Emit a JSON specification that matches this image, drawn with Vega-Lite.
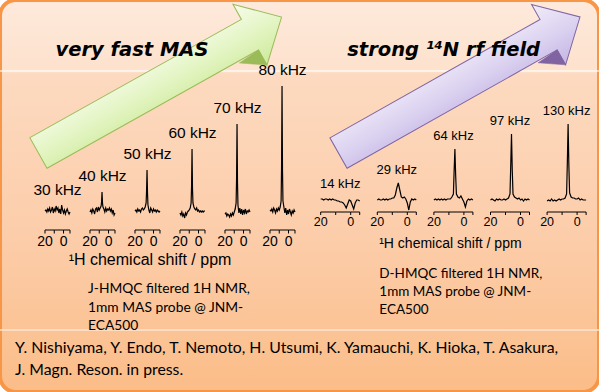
{
  "$schema": "https://vega.github.io/schema/vega-lite/v6.json",
  "width": 599,
  "height": 392,
  "autosize": {"type": "none"},
  "padding": 0,
  "background": "white",
  "config": {
    "view": {
      "fill": {"gradient": "linear", "x1": 0, "y1": 0, "x2": 0, "y2": 1,
        "stops": [
          {"offset": 0, "color": "#fee9db"},
          {"offset": 0.18, "color": "#fde2cd"},
          {"offset": 0.19, "color": "#fcdac0"},
          {"offset": 0.6, "color": "#fccdaa"},
          {"offset": 1, "color": "#fbbd88"}
        ]},
      "stroke": "#f79646",
      "strokeWidth": 4,
      "cornerRadius": 16
    },
    "text": {"font": "Liberation Sans", "color": "#000000"}
  },
  "datasets": {
    "note": [{"kind": "annotation"}],
    "jspec": [
      {"s":"30 kHz","p":20,"i":0},{"s":"30 kHz","p":19,"i":1},{"s":"30 kHz","p":18,"i":-1},{"s":"30 kHz","p":17,"i":2},{"s":"30 kHz","p":16,"i":0},{"s":"30 kHz","p":15,"i":3},{"s":"30 kHz","p":14,"i":-1},{"s":"30 kHz","p":13,"i":1},{"s":"30 kHz","p":12,"i":4},{"s":"30 kHz","p":11,"i":-2},{"s":"30 kHz","p":10,"i":2},{"s":"30 kHz","p":9,"i":0},{"s":"30 kHz","p":8,"i":5},{"s":"30 kHz","p":7,"i":1},{"s":"30 kHz","p":6,"i":3},{"s":"30 kHz","p":5,"i":-2},{"s":"30 kHz","p":4,"i":2},{"s":"30 kHz","p":3,"i":-3},{"s":"30 kHz","p":2,"i":6},{"s":"30 kHz","p":1,"i":1},{"s":"30 kHz","p":0,"i":-2},{"s":"30 kHz","p":-1,"i":1},{"s":"30 kHz","p":-2,"i":-3},{"s":"30 kHz","p":-3,"i":0},{"s":"30 kHz","p":-4,"i":2},{"s":"30 kHz","p":-5,"i":-1},{"s":"30 kHz","p":-6,"i":-3},{"s":"30 kHz","p":-7,"i":-1},
      {"s":"40 kHz","p":20,"i":-1},{"s":"40 kHz","p":19,"i":1},{"s":"40 kHz","p":18,"i":-2},{"s":"40 kHz","p":17,"i":2},{"s":"40 kHz","p":16,"i":0},{"s":"40 kHz","p":15,"i":-3},{"s":"40 kHz","p":14,"i":2},{"s":"40 kHz","p":13,"i":3},{"s":"40 kHz","p":12,"i":-1},{"s":"40 kHz","p":11,"i":4},{"s":"40 kHz","p":10,"i":1},{"s":"40 kHz","p":9,"i":3},{"s":"40 kHz","p":8,"i":5},{"s":"40 kHz","p":7.5,"i":9},{"s":"40 kHz","p":7,"i":19},{"s":"40 kHz","p":6.5,"i":8},{"s":"40 kHz","p":6,"i":4},{"s":"40 kHz","p":5,"i":2},{"s":"40 kHz","p":4,"i":-1},{"s":"40 kHz","p":3,"i":3},{"s":"40 kHz","p":2,"i":0},{"s":"40 kHz","p":1,"i":2},{"s":"40 kHz","p":0,"i":1},{"s":"40 kHz","p":-1,"i":3},{"s":"40 kHz","p":-2,"i":0},{"s":"40 kHz","p":-3,"i":2},{"s":"40 kHz","p":-4,"i":-2},{"s":"40 kHz","p":-5,"i":1},{"s":"40 kHz","p":-6,"i":-4},{"s":"40 kHz","p":-7,"i":-2},
      {"s":"50 kHz","p":20,"i":0},{"s":"50 kHz","p":19,"i":1},{"s":"50 kHz","p":18,"i":-1},{"s":"50 kHz","p":17,"i":2},{"s":"50 kHz","p":16,"i":0},{"s":"50 kHz","p":15,"i":1},{"s":"50 kHz","p":14,"i":-1},{"s":"50 kHz","p":13,"i":2},{"s":"50 kHz","p":12,"i":3},{"s":"50 kHz","p":11,"i":1},{"s":"50 kHz","p":10,"i":2},{"s":"50 kHz","p":9,"i":4},{"s":"50 kHz","p":8,"i":8},{"s":"50 kHz","p":7.5,"i":20},{"s":"50 kHz","p":7,"i":41},{"s":"50 kHz","p":6.5,"i":18},{"s":"50 kHz","p":6,"i":6},{"s":"50 kHz","p":5,"i":1},{"s":"50 kHz","p":4,"i":-2},{"s":"50 kHz","p":3,"i":3},{"s":"50 kHz","p":2,"i":1},{"s":"50 kHz","p":1,"i":-1},{"s":"50 kHz","p":0,"i":2},{"s":"50 kHz","p":-1,"i":0},{"s":"50 kHz","p":-2,"i":1},{"s":"50 kHz","p":-3,"i":-1},{"s":"50 kHz","p":-4,"i":1},{"s":"50 kHz","p":-5,"i":0},{"s":"50 kHz","p":-6,"i":-1},{"s":"50 kHz","p":-7,"i":0},
      {"s":"60 kHz","p":20,"i":-2},{"s":"60 kHz","p":19,"i":-4},{"s":"60 kHz","p":18,"i":-1},{"s":"60 kHz","p":17,"i":-5},{"s":"60 kHz","p":16,"i":-3},{"s":"60 kHz","p":15,"i":-7},{"s":"60 kHz","p":14,"i":-2},{"s":"60 kHz","p":13,"i":-4},{"s":"60 kHz","p":12,"i":-1},{"s":"60 kHz","p":11,"i":0},{"s":"60 kHz","p":10,"i":1},{"s":"60 kHz","p":9,"i":3},{"s":"60 kHz","p":8,"i":8},{"s":"60 kHz","p":7.5,"i":25},{"s":"60 kHz","p":7,"i":62},{"s":"60 kHz","p":6.5,"i":22},{"s":"60 kHz","p":6,"i":8},{"s":"60 kHz","p":5,"i":4},{"s":"60 kHz","p":4,"i":2},{"s":"60 kHz","p":3,"i":1},{"s":"60 kHz","p":2,"i":3},{"s":"60 kHz","p":1,"i":0},{"s":"60 kHz","p":0,"i":1},{"s":"60 kHz","p":-1,"i":-1},{"s":"60 kHz","p":-2,"i":0},{"s":"60 kHz","p":-3,"i":-1},{"s":"60 kHz","p":-4,"i":0},{"s":"60 kHz","p":-5,"i":-1},{"s":"60 kHz","p":-6,"i":0},{"s":"60 kHz","p":-7,"i":0},
      {"s":"70 kHz","p":20,"i":-3},{"s":"70 kHz","p":19,"i":-2},{"s":"70 kHz","p":18,"i":-5},{"s":"70 kHz","p":17,"i":-3},{"s":"70 kHz","p":16,"i":-4},{"s":"70 kHz","p":15,"i":-6},{"s":"70 kHz","p":14,"i":-3},{"s":"70 kHz","p":13,"i":-5},{"s":"70 kHz","p":12,"i":-2},{"s":"70 kHz","p":11,"i":-4},{"s":"70 kHz","p":10,"i":-1},{"s":"70 kHz","p":9,"i":2},{"s":"70 kHz","p":8,"i":8},{"s":"70 kHz","p":7.5,"i":32},{"s":"70 kHz","p":7,"i":87},{"s":"70 kHz","p":6.5,"i":28},{"s":"70 kHz","p":6,"i":6},{"s":"70 kHz","p":5,"i":-2},{"s":"70 kHz","p":4,"i":3},{"s":"70 kHz","p":3,"i":-3},{"s":"70 kHz","p":2,"i":2},{"s":"70 kHz","p":1,"i":-4},{"s":"70 kHz","p":0,"i":1},{"s":"70 kHz","p":-1,"i":-2},{"s":"70 kHz","p":-2,"i":2},{"s":"70 kHz","p":-3,"i":-3},{"s":"70 kHz","p":-4,"i":0},{"s":"70 kHz","p":-5,"i":-1},{"s":"70 kHz","p":-6,"i":1},{"s":"70 kHz","p":-7,"i":-1},
      {"s":"80 kHz","p":20,"i":1},{"s":"80 kHz","p":19,"i":0},{"s":"80 kHz","p":18,"i":2},{"s":"80 kHz","p":17,"i":-1},{"s":"80 kHz","p":16,"i":3},{"s":"80 kHz","p":15,"i":1},{"s":"80 kHz","p":14,"i":-2},{"s":"80 kHz","p":13,"i":2},{"s":"80 kHz","p":12,"i":0},{"s":"80 kHz","p":11,"i":3},{"s":"80 kHz","p":10,"i":1},{"s":"80 kHz","p":9,"i":4},{"s":"80 kHz","p":8,"i":10},{"s":"80 kHz","p":7.5,"i":45},{"s":"80 kHz","p":7,"i":125},{"s":"80 kHz","p":6.5,"i":40},{"s":"80 kHz","p":6,"i":10},{"s":"80 kHz","p":5,"i":4},{"s":"80 kHz","p":4,"i":-2},{"s":"80 kHz","p":3,"i":3},{"s":"80 kHz","p":2,"i":-4},{"s":"80 kHz","p":1,"i":1},{"s":"80 kHz","p":0,"i":-3},{"s":"80 kHz","p":-1,"i":2},{"s":"80 kHz","p":-2,"i":-1},{"s":"80 kHz","p":-3,"i":-4},{"s":"80 kHz","p":-4,"i":0},{"s":"80 kHz","p":-5,"i":-2},{"s":"80 kHz","p":-6,"i":1},{"s":"80 kHz","p":-7,"i":-1}
    ],
    "dspec": [
      {"s":"14 kHz","p":20,"i":1},{"s":"14 kHz","p":19,"i":1},{"s":"14 kHz","p":18,"i":0},{"s":"14 kHz","p":17,"i":1},{"s":"14 kHz","p":16,"i":1},{"s":"14 kHz","p":15,"i":0},{"s":"14 kHz","p":14,"i":1},{"s":"14 kHz","p":13,"i":0},{"s":"14 kHz","p":12,"i":1},{"s":"14 kHz","p":11,"i":0},{"s":"14 kHz","p":10,"i":0},{"s":"14 kHz","p":9,"i":-1},{"s":"14 kHz","p":8,"i":-1},{"s":"14 kHz","p":7,"i":-2},{"s":"14 kHz","p":6,"i":-2},{"s":"14 kHz","p":5,"i":-3},{"s":"14 kHz","p":4,"i":-5},{"s":"14 kHz","p":3,"i":-8},{"s":"14 kHz","p":2,"i":-4},{"s":"14 kHz","p":1,"i":0},{"s":"14 kHz","p":0,"i":-1},{"s":"14 kHz","p":-1,"i":-5},{"s":"14 kHz","p":-2,"i":-9},{"s":"14 kHz","p":-3,"i":-3},{"s":"14 kHz","p":-4,"i":0},{"s":"14 kHz","p":-5,"i":0},{"s":"14 kHz","p":-6,"i":-1},
      {"s":"29 kHz","p":20,"i":0},{"s":"29 kHz","p":19,"i":1},{"s":"29 kHz","p":18,"i":0},{"s":"29 kHz","p":17,"i":0},{"s":"29 kHz","p":16,"i":1},{"s":"29 kHz","p":15,"i":0},{"s":"29 kHz","p":14,"i":1},{"s":"29 kHz","p":13,"i":0},{"s":"29 kHz","p":12,"i":1},{"s":"29 kHz","p":11,"i":1},{"s":"29 kHz","p":10,"i":2},{"s":"29 kHz","p":9,"i":2},{"s":"29 kHz","p":8,"i":5},{"s":"29 kHz","p":7,"i":12},{"s":"29 kHz","p":6,"i":17},{"s":"29 kHz","p":5,"i":10},{"s":"29 kHz","p":4,"i":3},{"s":"29 kHz","p":3,"i":2},{"s":"29 kHz","p":2,"i":3},{"s":"29 kHz","p":1,"i":1},{"s":"29 kHz","p":0,"i":-3},{"s":"29 kHz","p":-1,"i":-10},{"s":"29 kHz","p":-2,"i":-2},{"s":"29 kHz","p":-3,"i":1},{"s":"29 kHz","p":-4,"i":0},{"s":"29 kHz","p":-5,"i":1},{"s":"29 kHz","p":-6,"i":0},
      {"s":"64 kHz","p":20,"i":0},{"s":"64 kHz","p":19,"i":1},{"s":"64 kHz","p":18,"i":0},{"s":"64 kHz","p":17,"i":1},{"s":"64 kHz","p":16,"i":0},{"s":"64 kHz","p":15,"i":1},{"s":"64 kHz","p":14,"i":0},{"s":"64 kHz","p":13,"i":1},{"s":"64 kHz","p":12,"i":0},{"s":"64 kHz","p":11,"i":1},{"s":"64 kHz","p":10,"i":1},{"s":"64 kHz","p":9,"i":1},{"s":"64 kHz","p":8,"i":3},{"s":"64 kHz","p":7,"i":6},{"s":"64 kHz","p":6.5,"i":30},{"s":"64 kHz","p":6,"i":51},{"s":"64 kHz","p":5.5,"i":25},{"s":"64 kHz","p":5,"i":6},{"s":"64 kHz","p":4,"i":3},{"s":"64 kHz","p":3,"i":2},{"s":"64 kHz","p":2,"i":4},{"s":"64 kHz","p":1,"i":1},{"s":"64 kHz","p":0,"i":-2},{"s":"64 kHz","p":-1,"i":-7},{"s":"64 kHz","p":-2,"i":-1},{"s":"64 kHz","p":-3,"i":1},{"s":"64 kHz","p":-4,"i":0},{"s":"64 kHz","p":-5,"i":1},{"s":"64 kHz","p":-6,"i":0},
      {"s":"97 kHz","p":20,"i":0},{"s":"97 kHz","p":19,"i":1},{"s":"97 kHz","p":18,"i":0},{"s":"97 kHz","p":17,"i":-1},{"s":"97 kHz","p":16,"i":1},{"s":"97 kHz","p":15,"i":0},{"s":"97 kHz","p":14,"i":1},{"s":"97 kHz","p":13,"i":0},{"s":"97 kHz","p":12,"i":0},{"s":"97 kHz","p":11,"i":1},{"s":"97 kHz","p":10,"i":0},{"s":"97 kHz","p":9,"i":1},{"s":"97 kHz","p":8,"i":2},{"s":"97 kHz","p":7,"i":6},{"s":"97 kHz","p":6.5,"i":35},{"s":"97 kHz","p":6,"i":66},{"s":"97 kHz","p":5.5,"i":30},{"s":"97 kHz","p":5,"i":6},{"s":"97 kHz","p":4,"i":3},{"s":"97 kHz","p":3,"i":2},{"s":"97 kHz","p":2,"i":1},{"s":"97 kHz","p":1,"i":2},{"s":"97 kHz","p":0,"i":0},{"s":"97 kHz","p":-1,"i":1},{"s":"97 kHz","p":-2,"i":-1},{"s":"97 kHz","p":-3,"i":1},{"s":"97 kHz","p":-4,"i":0},{"s":"97 kHz","p":-5,"i":1},{"s":"97 kHz","p":-6,"i":0},
      {"s":"130 kHz","p":20,"i":-1},{"s":"130 kHz","p":19,"i":0},{"s":"130 kHz","p":18,"i":-1},{"s":"130 kHz","p":17,"i":1},{"s":"130 kHz","p":16,"i":-1},{"s":"130 kHz","p":15,"i":0},{"s":"130 kHz","p":14,"i":-1},{"s":"130 kHz","p":13,"i":0},{"s":"130 kHz","p":12,"i":1},{"s":"130 kHz","p":11,"i":0},{"s":"130 kHz","p":10,"i":1},{"s":"130 kHz","p":9,"i":1},{"s":"130 kHz","p":8,"i":2},{"s":"130 kHz","p":7,"i":6},{"s":"130 kHz","p":6.5,"i":38},{"s":"130 kHz","p":6,"i":76},{"s":"130 kHz","p":5.5,"i":35},{"s":"130 kHz","p":5,"i":7},{"s":"130 kHz","p":4,"i":3},{"s":"130 kHz","p":3,"i":2},{"s":"130 kHz","p":2,"i":2},{"s":"130 kHz","p":1,"i":1},{"s":"130 kHz","p":0,"i":1},{"s":"130 kHz","p":-1,"i":2},{"s":"130 kHz","p":-2,"i":0},{"s":"130 kHz","p":-3,"i":1},{"s":"130 kHz","p":-4,"i":0},{"s":"130 kHz","p":-5,"i":0},{"s":"130 kHz","p":-6,"i":0}
    ],
    "jlab": [
      {"s":"30 kHz","peak":5},{"s":"40 kHz","peak":19},{"s":"50 kHz","peak":41},{"s":"60 kHz","peak":62},{"s":"70 kHz","peak":87},{"s":"80 kHz","peak":125}
    ],
    "dlab": [
      {"s":"14 kHz","peak":3},{"s":"29 kHz","peak":17},{"s":"64 kHz","peak":51},{"s":"97 kHz","peak":66},{"s":"130 kHz","peak":76}
    ],
    "jticks": [
      {"s":"30 kHz","p":20,"lab":"20"},{"s":"30 kHz","p":10,"lab":""},{"s":"30 kHz","p":0,"lab":"0"},{"s":"30 kHz","p":-7,"lab":""},
      {"s":"40 kHz","p":20,"lab":"20"},{"s":"40 kHz","p":10,"lab":""},{"s":"40 kHz","p":0,"lab":"0"},{"s":"40 kHz","p":-7,"lab":""},
      {"s":"50 kHz","p":20,"lab":"20"},{"s":"50 kHz","p":10,"lab":""},{"s":"50 kHz","p":0,"lab":"0"},{"s":"50 kHz","p":-7,"lab":""},
      {"s":"60 kHz","p":20,"lab":"20"},{"s":"60 kHz","p":10,"lab":""},{"s":"60 kHz","p":0,"lab":"0"},{"s":"60 kHz","p":-7,"lab":""},
      {"s":"70 kHz","p":20,"lab":"20"},{"s":"70 kHz","p":10,"lab":""},{"s":"70 kHz","p":0,"lab":"0"},{"s":"70 kHz","p":-7,"lab":""},
      {"s":"80 kHz","p":20,"lab":"20"},{"s":"80 kHz","p":10,"lab":""},{"s":"80 kHz","p":0,"lab":"0"},{"s":"80 kHz","p":-7,"lab":""}
    ],
    "dticks": [
      {"s":"14 kHz","p":20,"lab":"20"},{"s":"14 kHz","p":10,"lab":""},{"s":"14 kHz","p":0,"lab":"0"},{"s":"14 kHz","p":-6,"lab":""},
      {"s":"29 kHz","p":20,"lab":"20"},{"s":"29 kHz","p":10,"lab":""},{"s":"29 kHz","p":0,"lab":"0"},{"s":"29 kHz","p":-6,"lab":""},
      {"s":"64 kHz","p":20,"lab":"20"},{"s":"64 kHz","p":10,"lab":""},{"s":"64 kHz","p":0,"lab":"0"},{"s":"64 kHz","p":-6,"lab":""},
      {"s":"97 kHz","p":20,"lab":"20"},{"s":"97 kHz","p":10,"lab":""},{"s":"97 kHz","p":0,"lab":"0"},{"s":"97 kHz","p":-6,"lab":""},
      {"s":"130 kHz","p":20,"lab":"20"},{"s":"130 kHz","p":10,"lab":""},{"s":"130 kHz","p":0,"lab":"0"},{"s":"130 kHz","p":-6,"lab":""}
    ]
  },
  "layer": [
    {
      "layer": [
        {"data": {"name": "note"},
         "mark": {"type": "rule", "stroke": "#ffffff", "strokeWidth": 1.5, "strokeOpacity": 0.75},
         "encoding": {"y": {"datum": 140, "type": "quantitative", "scale": {"type": "linear", "domain": [-181, 211], "range": [392, 0], "zero": false, "nice": false}, "axis": null}}},
        {"data": {"name": "note"},
         "mark": {"type": "rule", "stroke": "#fee6d2", "strokeWidth": 1.5},
         "encoding": {"y": {"datum": -119, "type": "quantitative", "scale": {"type": "linear", "domain": [-181, 211], "range": [392, 0], "zero": false, "nice": false}, "axis": null}}},
        {"data": {"name": "note"},
         "mark": {"type": "point", "shape": "M-1,-0.126L0.74,-0.126L0.74,-0.25L1,0L0.74,0.25L0.74,0.126L-1,0.126Z", "size": 77562, "angle": 330.8, "filled": true, "opacity": 1,
          "fill": {"gradient": "linear", "x1": 0, "y1": 0, "x2": 0, "y2": 1, "stops": [{"offset": 0, "color": "#f6fcec"}, {"offset": 0.5, "color": "#e4f5c4"}, {"offset": 1, "color": "#cdea9a"}]},
          "stroke": "#9bbb59", "strokeWidth": 1},
         "encoding": {
           "x": {"datum": "50 kHz", "type": "nominal", "bandPosition": 1, "scale": {"type": "band", "domain": ["30 kHz","40 kHz","50 kHz","60 kHz","70 kHz","80 kHz"], "range": [35, 305], "paddingInner": 0.4444, "paddingOuter": 0.2222}, "axis": null},
           "y": {"datum": 126, "type": "quantitative", "scale": {"type": "linear", "domain": [-181, 211], "range": [392, 0], "zero": false, "nice": false}, "axis": null}}},
        {"data": {"name": "note"},
         "mark": {"type": "point", "shape": "M0.575,0.14L0.74,0.126L0.74,0.25Z", "size": 77562, "angle": 330.8, "filled": true, "opacity": 1, "fill": "#9bbb59", "stroke": "#9bbb59", "strokeWidth": 0.5},
         "encoding": {
           "x": {"datum": "50 kHz", "type": "nominal", "bandPosition": 1, "scale": {"type": "band", "domain": ["30 kHz","40 kHz","50 kHz","60 kHz","70 kHz","80 kHz"], "range": [35, 305], "paddingInner": 0.4444, "paddingOuter": 0.2222}, "axis": null},
           "y": {"datum": 126, "type": "quantitative", "scale": {"type": "linear", "domain": [-181, 211], "range": [392, 0], "zero": false, "nice": false}, "axis": null}}},
        {"data": {"name": "jspec"},
         "mark": {"type": "line", "stroke": "#000000", "strokeWidth": 1.2},
         "encoding": {
           "x": {"field": "s", "type": "nominal", "scale": {"type": "band", "domain": ["30 kHz","40 kHz","50 kHz","60 kHz","70 kHz","80 kHz"], "range": [35, 305], "paddingInner": 0.4444, "paddingOuter": 0.2222}, "axis": null},
           "xOffset": {"field": "p", "type": "quantitative", "scale": {"type": "linear", "domain": [-7, 20], "reverse": true, "range": [0, 25], "zero": false, "nice": false}},
           "y": {"field": "i", "type": "quantitative", "scale": {"type": "linear", "domain": [-181, 211], "range": [392, 0], "zero": false, "nice": false}, "axis": null},
           "detail": {"field": "s", "type": "nominal"},
           "order": {"field": "p", "type": "quantitative", "sort": "descending"}}},
        {"data": {"name": "jticks"},
         "mark": {"type": "line", "stroke": "#000000", "strokeWidth": 1},
         "encoding": {
           "x": {"field": "s", "type": "nominal", "scale": {"type": "band", "domain": ["30 kHz","40 kHz","50 kHz","60 kHz","70 kHz","80 kHz"], "range": [35, 305], "paddingInner": 0.4444, "paddingOuter": 0.2222}, "axis": null},
           "xOffset": {"field": "p", "type": "quantitative", "scale": {"type": "linear", "domain": [-7, 20], "reverse": true, "range": [0, 25], "zero": false, "nice": false}},
           "y": {"datum": -19, "type": "quantitative", "scale": {"type": "linear", "domain": [-181, 211], "range": [392, 0], "zero": false, "nice": false}, "axis": null},
           "detail": {"field": "s", "type": "nominal"},
           "order": {"field": "p", "type": "quantitative", "sort": "descending"}}},
        {"data": {"name": "jticks"},
         "mark": {"type": "rule", "stroke": "#000000", "strokeWidth": 1},
         "encoding": {
           "x": {"field": "s", "type": "nominal", "scale": {"type": "band", "domain": ["30 kHz","40 kHz","50 kHz","60 kHz","70 kHz","80 kHz"], "range": [35, 305], "paddingInner": 0.4444, "paddingOuter": 0.2222}, "axis": null},
           "xOffset": {"field": "p", "type": "quantitative", "scale": {"type": "linear", "domain": [-7, 20], "reverse": true, "range": [0, 25], "zero": false, "nice": false}},
           "y": {"datum": -19, "type": "quantitative", "scale": {"type": "linear", "domain": [-181, 211], "range": [392, 0], "zero": false, "nice": false}, "axis": null},
           "y2": {"datum": -22.5}}},
        {"data": {"name": "jticks"},
         "mark": {"type": "text", "font": "Liberation Sans Narrow, Liberation Sans", "fontSize": 14, "baseline": "middle", "align": "center"},
         "encoding": {
           "x": {"field": "s", "type": "nominal", "scale": {"type": "band", "domain": ["30 kHz","40 kHz","50 kHz","60 kHz","70 kHz","80 kHz"], "range": [35, 305], "paddingInner": 0.4444, "paddingOuter": 0.2222}, "axis": null},
           "xOffset": {"field": "p", "type": "quantitative", "scale": {"type": "linear", "domain": [-7, 20], "reverse": true, "range": [0, 25], "zero": false, "nice": false}},
           "y": {"datum": -31, "type": "quantitative", "scale": {"type": "linear", "domain": [-181, 211], "range": [392, 0], "zero": false, "nice": false}, "axis": null},
           "text": {"field": "lab", "type": "nominal"}}},
        {"data": {"name": "jlab"},
         "mark": {"type": "text", "fontSize": 15.5, "baseline": "middle", "align": "center", "dy": -16},
         "encoding": {
           "x": {"field": "s", "type": "nominal", "scale": {"type": "band", "domain": ["30 kHz","40 kHz","50 kHz","60 kHz","70 kHz","80 kHz"], "range": [35, 305], "paddingInner": 0.4444, "paddingOuter": 0.2222}, "axis": null},
           "y": {"field": "peak", "type": "quantitative", "scale": {"type": "linear", "domain": [-181, 211], "range": [392, 0], "zero": false, "nice": false}, "axis": null},
           "text": {"field": "s", "type": "nominal"}}},
        {"data": {"name": "note"},
         "mark": {"type": "text", "text": "very fast MAS", "font": "DejaVu Sans", "fontWeight": "bold", "fontStyle": "italic", "fontSize": 19.5, "baseline": "middle", "align": "center", "dx": -3},
         "encoding": {
           "x": {"datum": "50 kHz", "type": "nominal", "bandPosition": 0, "scale": {"type": "band", "domain": ["30 kHz","40 kHz","50 kHz","60 kHz","70 kHz","80 kHz"], "range": [35, 305], "paddingInner": 0.4444, "paddingOuter": 0.2222}, "axis": null},
           "y": {"datum": 161, "type": "quantitative", "scale": {"type": "linear", "domain": [-181, 211], "range": [392, 0], "zero": false, "nice": false}, "axis": null}}},
        {"data": {"name": "note"},
         "mark": {"type": "text", "text": "¹H chemical shift / ppm", "fontSize": 16, "baseline": "middle", "align": "center", "dx": 2.5},
         "encoding": {
           "x": {"datum": "50 kHz", "type": "nominal", "bandPosition": 0.5, "scale": {"type": "band", "domain": ["30 kHz","40 kHz","50 kHz","60 kHz","70 kHz","80 kHz"], "range": [35, 305], "paddingInner": 0.4444, "paddingOuter": 0.2222}, "axis": null},
           "y": {"datum": -49, "type": "quantitative", "scale": {"type": "linear", "domain": [-181, 211], "range": [392, 0], "zero": false, "nice": false}, "axis": null}}},
        {"data": {"name": "note"},
         "mark": {"type": "text", "text": ["J-HMQC filtered 1H NMR,", "1mm MAS probe @ JNM-", "ECA500"], "font": "Lato", "fontSize": 13.8, "lineHeight": 18.5, "baseline": "alphabetic", "align": "left", "dx": -2},
         "encoding": {
           "x": {"datum": "40 kHz", "type": "nominal", "bandPosition": 0, "scale": {"type": "band", "domain": ["30 kHz","40 kHz","50 kHz","60 kHz","70 kHz","80 kHz"], "range": [35, 305], "paddingInner": 0.4444, "paddingOuter": 0.2222}, "axis": null},
           "y": {"datum": -82, "type": "quantitative", "scale": {"type": "linear", "domain": [-181, 211], "range": [392, 0], "zero": false, "nice": false}, "axis": null}}},
        {"data": {"name": "note"},
         "mark": {"type": "text", "text": ["Y. Nishiyama, Y. Endo, T. Nemoto, H. Utsumi, K. Yamauchi, K. Hioka, T.  Asakura,", "J. Magn. Reson. in press."], "font": "Lato", "fontSize": 15.8, "lineHeight": 22, "baseline": "alphabetic", "align": "left", "dx": -30},
         "encoding": {
           "x": {"datum": "30 kHz", "type": "nominal", "bandPosition": 0, "scale": {"type": "band", "domain": ["30 kHz","40 kHz","50 kHz","60 kHz","70 kHz","80 kHz"], "range": [35, 305], "paddingInner": 0.4444, "paddingOuter": 0.2222}, "axis": null},
           "y": {"datum": -142, "type": "quantitative", "scale": {"type": "linear", "domain": [-181, 211], "range": [392, 0], "zero": false, "nice": false}, "axis": null}}}
      ]
    },
    {
      "layer": [
        {"data": {"name": "note"},
         "mark": {"type": "point", "shape": "M-1,-0.126L0.74,-0.126L0.74,-0.25L1,0L0.74,0.25L0.74,0.126L-1,0.126Z", "size": 76840, "angle": 330.6, "filled": true, "opacity": 1,
          "fill": {"gradient": "linear", "x1": 0, "y1": 0, "x2": 0, "y2": 1, "stops": [{"offset": 0, "color": "#f1edf9"}, {"offset": 0.5, "color": "#ddd4f1"}, {"offset": 1, "color": "#c4b6e4"}]},
          "stroke": "#8064a2", "strokeWidth": 1},
         "encoding": {
           "x": {"datum": "64 kHz", "type": "nominal", "bandPosition": 0.65, "scale": {"type": "band", "domain": ["14 kHz","29 kHz","64 kHz","97 kHz","130 kHz"], "range": [311.9, 594.9], "paddingInner": 0.311, "paddingOuter": 0.1555}, "axis": null},
           "y": {"datum": 115, "type": "quantitative", "scale": {"type": "linear", "domain": [-192, 200], "range": [392, 0], "zero": false, "nice": false}, "axis": null}}},
        {"data": {"name": "note"},
         "mark": {"type": "point", "shape": "M0.575,0.14L0.74,0.126L0.74,0.25Z", "size": 76840, "angle": 330.6, "filled": true, "opacity": 1, "fill": "#8064a2", "stroke": "#8064a2", "strokeWidth": 0.5},
         "encoding": {
           "x": {"datum": "64 kHz", "type": "nominal", "bandPosition": 0.65, "scale": {"type": "band", "domain": ["14 kHz","29 kHz","64 kHz","97 kHz","130 kHz"], "range": [311.9, 594.9], "paddingInner": 0.311, "paddingOuter": 0.1555}, "axis": null},
           "y": {"datum": 115, "type": "quantitative", "scale": {"type": "linear", "domain": [-192, 200], "range": [392, 0], "zero": false, "nice": false}, "axis": null}}},
        {"data": {"name": "dspec"},
         "mark": {"type": "line", "stroke": "#000000", "strokeWidth": 1.2},
         "encoding": {
           "x": {"field": "s", "type": "nominal", "scale": {"type": "band", "domain": ["14 kHz","29 kHz","64 kHz","97 kHz","130 kHz"], "range": [311.9, 594.9], "paddingInner": 0.311, "paddingOuter": 0.1555}, "axis": null},
           "xOffset": {"field": "p", "type": "quantitative", "scale": {"type": "linear", "domain": [-6, 20], "reverse": true, "range": [0, 39], "zero": false, "nice": false}},
           "y": {"field": "i", "type": "quantitative", "scale": {"type": "linear", "domain": [-192, 200], "range": [392, 0], "zero": false, "nice": false}, "axis": null},
           "detail": {"field": "s", "type": "nominal"},
           "order": {"field": "p", "type": "quantitative", "sort": "descending"}}},
        {"data": {"name": "dticks"},
         "mark": {"type": "line", "stroke": "#000000", "strokeWidth": 1},
         "encoding": {
           "x": {"field": "s", "type": "nominal", "scale": {"type": "band", "domain": ["14 kHz","29 kHz","64 kHz","97 kHz","130 kHz"], "range": [311.9, 594.9], "paddingInner": 0.311, "paddingOuter": 0.1555}, "axis": null},
           "xOffset": {"field": "p", "type": "quantitative", "scale": {"type": "linear", "domain": [-6, 20], "reverse": true, "range": [0, 39], "zero": false, "nice": false}},
           "y": {"datum": -12, "type": "quantitative", "scale": {"type": "linear", "domain": [-192, 200], "range": [392, 0], "zero": false, "nice": false}, "axis": null},
           "detail": {"field": "s", "type": "nominal"},
           "order": {"field": "p", "type": "quantitative", "sort": "descending"}}},
        {"data": {"name": "dticks"},
         "mark": {"type": "rule", "stroke": "#000000", "strokeWidth": 1},
         "encoding": {
           "x": {"field": "s", "type": "nominal", "scale": {"type": "band", "domain": ["14 kHz","29 kHz","64 kHz","97 kHz","130 kHz"], "range": [311.9, 594.9], "paddingInner": 0.311, "paddingOuter": 0.1555}, "axis": null},
           "xOffset": {"field": "p", "type": "quantitative", "scale": {"type": "linear", "domain": [-6, 20], "reverse": true, "range": [0, 39], "zero": false, "nice": false}},
           "y": {"datum": -12, "type": "quantitative", "scale": {"type": "linear", "domain": [-192, 200], "range": [392, 0], "zero": false, "nice": false}, "axis": null},
           "y2": {"datum": -15}}},
        {"data": {"name": "dticks"},
         "mark": {"type": "text", "font": "Liberation Sans Narrow, Liberation Sans", "fontSize": 12.5, "baseline": "middle", "align": "center"},
         "encoding": {
           "x": {"field": "s", "type": "nominal", "scale": {"type": "band", "domain": ["14 kHz","29 kHz","64 kHz","97 kHz","130 kHz"], "range": [311.9, 594.9], "paddingInner": 0.311, "paddingOuter": 0.1555}, "axis": null},
           "xOffset": {"field": "p", "type": "quantitative", "scale": {"type": "linear", "domain": [-6, 20], "reverse": true, "range": [0, 39], "zero": false, "nice": false}},
           "y": {"datum": -21.5, "type": "quantitative", "scale": {"type": "linear", "domain": [-192, 200], "range": [392, 0], "zero": false, "nice": false}, "axis": null},
           "text": {"field": "lab", "type": "nominal"}}},
        {"data": {"name": "dlab"},
         "mark": {"type": "text", "fontSize": 13, "baseline": "middle", "align": "center", "dy": -13},
         "encoding": {
           "x": {"field": "s", "type": "nominal", "scale": {"type": "band", "domain": ["14 kHz","29 kHz","64 kHz","97 kHz","130 kHz"], "range": [311.9, 594.9], "paddingInner": 0.311, "paddingOuter": 0.1555}, "axis": null},
           "y": {"field": "peak", "type": "quantitative", "scale": {"type": "linear", "domain": [-192, 200], "range": [392, 0], "zero": false, "nice": false}, "axis": null},
           "text": {"field": "s", "type": "nominal"}}},
        {"data": {"name": "note"},
         "mark": {"type": "text", "text": "strong ¹⁴N rf field", "font": "DejaVu Sans", "fontWeight": "bold", "fontStyle": "italic", "fontSize": 19.5, "baseline": "middle", "align": "center"},
         "encoding": {
           "x": {"datum": "64 kHz", "type": "nominal", "bandPosition": 0.25, "scale": {"type": "band", "domain": ["14 kHz","29 kHz","64 kHz","97 kHz","130 kHz"], "range": [311.9, 594.9], "paddingInner": 0.311, "paddingOuter": 0.1555}, "axis": null},
           "y": {"datum": 150, "type": "quantitative", "scale": {"type": "linear", "domain": [-192, 200], "range": [392, 0], "zero": false, "nice": false}, "axis": null}}},
        {"data": {"name": "note"},
         "mark": {"type": "text", "text": "¹H chemical  shift / ppm", "fontSize": 14, "baseline": "middle", "align": "center", "dx": -3},
         "encoding": {
           "x": {"datum": "64 kHz", "type": "nominal", "bandPosition": 0.5, "scale": {"type": "band", "domain": ["14 kHz","29 kHz","64 kHz","97 kHz","130 kHz"], "range": [311.9, 594.9], "paddingInner": 0.311, "paddingOuter": 0.1555}, "axis": null},
           "y": {"datum": -44, "type": "quantitative", "scale": {"type": "linear", "domain": [-192, 200], "range": [392, 0], "zero": false, "nice": false}, "axis": null}}},
        {"data": {"name": "note"},
         "mark": {"type": "text", "text": ["D-HMQC filtered 1H NMR,", "1mm MAS probe @ JNM-", "ECA500"], "font": "Lato", "fontSize": 13.5, "lineHeight": 18, "baseline": "alphabetic", "align": "left", "dx": 2},
         "encoding": {
           "x": {"datum": "29 kHz", "type": "nominal", "bandPosition": 0, "scale": {"type": "band", "domain": ["14 kHz","29 kHz","64 kHz","97 kHz","130 kHz"], "range": [311.9, 594.9], "paddingInner": 0.311, "paddingOuter": 0.1555}, "axis": null},
           "y": {"datum": -78, "type": "quantitative", "scale": {"type": "linear", "domain": [-192, 200], "range": [392, 0], "zero": false, "nice": false}, "axis": null}}}
      ]
    }
  ],
  "resolve": {"scale": {"x": "independent", "y": "independent", "xOffset": "independent"}}
}
